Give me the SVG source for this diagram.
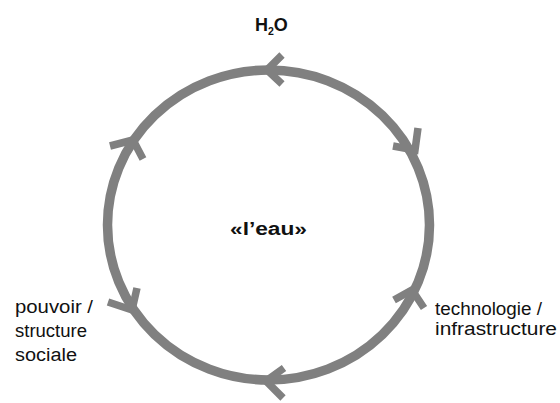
<svg xmlns="http://www.w3.org/2000/svg" width="560" height="403" viewBox="0 0 560 403">
<style>
.ring{fill:none;stroke:#808080;stroke-width:9.5}
.chev{fill:none;stroke:#808080;stroke-width:7.5;stroke-linejoin:miter;stroke-linecap:butt}
.lbl{font-family:"Liberation Sans",Arial,sans-serif;font-size:18px;fill:#111111}
.bold{font-weight:bold}
</style>
<rect width="560" height="403" fill="#ffffff"/>
<g id="connectors">
<ellipse class="ring" cx="268.5" cy="225" rx="161" ry="155"/>
<polyline class="chev" points="282,55 267,70 282,84"/>
<polyline class="chev" points="393,146 415,150 418,128"/>
<polyline class="chev" points="394,300 412,290 424,308"/>
<polyline class="chev" points="284,368 266,381 283,398"/>
<polyline class="chev" points="108,302 132,310 137,288"/>
<polyline class="chev" points="110,146 133,140 143,159"/>
</g>
<g id="node-h2o">
<text class="lbl bold" x="255" y="31" font-size="17">H<tspan font-size="10.5" dy="4">2</tspan><tspan dy="-4">O</tspan></text>
</g>
<g id="node-eau">
<text class="lbl bold" x="230" y="235" font-size="19" textLength="77" lengthAdjust="spacingAndGlyphs">«l’eau»</text>
</g>
<g id="node-tech">
<text class="lbl" x="435" y="315" textLength="107" lengthAdjust="spacingAndGlyphs">technologie /</text>
<text class="lbl" x="435" y="335" textLength="122" lengthAdjust="spacingAndGlyphs">infrastructure</text>
</g>
<g id="node-pouvoir">
<text class="lbl" x="15" y="313" textLength="78" lengthAdjust="spacingAndGlyphs">pouvoir /</text>
<text class="lbl" x="15" y="337" textLength="72" lengthAdjust="spacingAndGlyphs">structure</text>
<text class="lbl" x="15" y="361" textLength="62" lengthAdjust="spacingAndGlyphs">sociale</text>
</g>
</svg>
